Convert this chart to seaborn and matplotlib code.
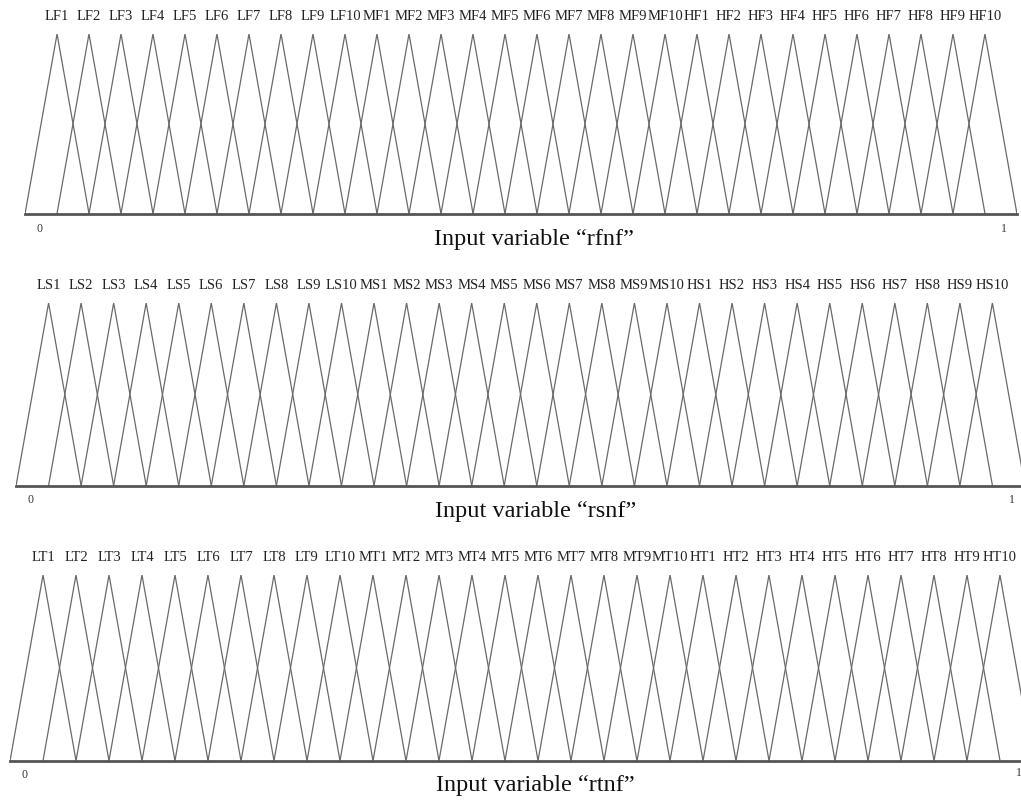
import numpy as np
import pandas as pd
import matplotlib
matplotlib.use("Agg")
import matplotlib.pyplot as plt
import seaborn as sns

# ---- data ----
labels_f = ["LF1", "LF2", "LF3", "LF4", "LF5", "LF6", "LF7", "LF8", "LF9", "LF10",
            "MF1", "MF2", "MF3", "MF4", "MF5", "MF6", "MF7", "MF8", "MF9", "MF10",
            "HF1", "HF2", "HF3", "HF4", "HF5", "HF6", "HF7", "HF8", "HF9", "HF10"]
labels_s = ["LS1", "LS2", "LS3", "LS4", "LS5", "LS6", "LS7", "LS8", "LS9", "LS10",
            "MS1", "MS2", "MS3", "MS4", "MS5", "MS6", "MS7", "MS8", "MS9", "MS10",
            "HS1", "HS2", "HS3", "HS4", "HS5", "HS6", "HS7", "HS8", "HS9", "HS10"]
labels_t = ["LT1", "LT2", "LT3", "LT4", "LT5", "LT6", "LT7", "LT8", "LT9", "LT10",
            "MT1", "MT2", "MT3", "MT4", "MT5", "MT6", "MT7", "MT8", "MT9", "MT10",
            "HT1", "HT2", "HT3", "HT4", "HT5", "HT6", "HT7", "HT8", "HT9", "HT10"]
# triangle peak positions on the normalised input range
centers = [0.0323, 0.0645, 0.0968, 0.1290, 0.1613, 0.1935, 0.2258, 0.2581, 0.2903, 0.3226,
           0.3548, 0.3871, 0.4194, 0.4516, 0.4839, 0.5161, 0.5484, 0.5806, 0.6129, 0.6452,
           0.6774, 0.7097, 0.7419, 0.7742, 0.8065, 0.8387, 0.8710, 0.9032, 0.9355, 0.9677]
half_width = 0.0323
variables = ["rfnf", "rsnf", "rtnf"]

W, H = 1021, 802
sns.set_theme(style="white")
plt.rcParams["font.family"] = ["Liberation Serif", "DejaVu Serif"]

fig = plt.figure(figsize=(W / 100, H / 100), dpi=100)

# panel geometry in pixels: (left foot x, axis span px, baseline y, peak y)
panels = [
    (25, 992, 214, 34),
    (16, 1009, 486, 303),
    (10, 1023, 761, 575),
]
title_pos = [(534, 239), (536, 512), (535, 786)]
zero_pos = [(39, 229), (30, 500), (24, 775)]
one_pos = [(1004, 229), (1012, 500), (1019, 773)]
all_labels = [labels_f, labels_s, labels_t]

for i, (x0, span, yb, yp) in enumerate(panels):
    ax = fig.add_axes([x0 / W, (H - yb) / H, span / W, (yb - yp) / H])
    rows = []
    for name, c in zip(all_labels[i], centers):
        rows += [(name, c - half_width, 0.0), (name, c, 1.0), (name, c + half_width, 0.0)]
    df = pd.DataFrame(rows, columns=["mf", "x", "y"])
    sns.lineplot(data=df, x="x", y="y", units="mf", estimator=None, sort=False,
                 color="#6a6a6a", linewidth=0.9, ax=ax, legend=False)
    ax.set_xlim(0, 1)
    ax.set_ylim(0, 1)
    for s in ["top", "right", "left"]:
        ax.spines[s].set_visible(False)
    ax.spines["bottom"].set_color("#555555")
    ax.spines["bottom"].set_linewidth(2.0)
    ax.set_xticks([])
    ax.set_yticks([])
    ax.set_xlabel("")
    ax.set_ylabel("")
    ax.patch.set_alpha(0)
    for name, c in zip(all_labels[i], centers):
        ax.annotate(name, xy=(c, 1.0), xytext=(0, 12.5), textcoords="offset points",
                    ha="center", va="center", fontsize=10.5, color="#222222",
                    annotation_clip=False)
    tx, ty = title_pos[i]
    fig.text(tx / W, (H - ty) / H, f"Input variable \u201c{variables[i]}\u201d",
             ha="center", va="center", fontsize=17.5, color="#111111")
    zx, zy = zero_pos[i]
    fig.text(zx / W, (H - zy) / H, "0", ha="center", va="center", fontsize=8.5, color="#333333")
    ox, oy = one_pos[i]
    fig.text(ox / W, (H - oy) / H, "1", ha="center", va="center", fontsize=8.5, color="#333333")

fig.savefig("out.png", dpi=100)
